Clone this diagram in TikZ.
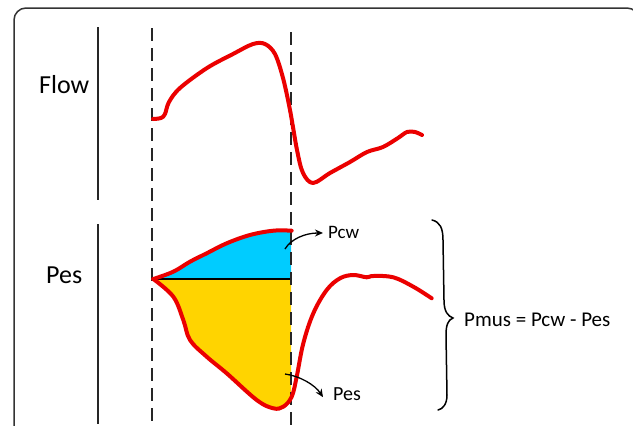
\documentclass[tikz,border=0pt]{standalone}
\usepackage{fontspec}
\setmainfont{Carlito}
\usetikzlibrary{arrows.meta}
\definecolor{tracered}{RGB}{235,0,0}
\definecolor{cwblue}{RGB}{0,204,255}
\definecolor{esyellow}{RGB}{255,212,0}
\begin{document}
\begin{tikzpicture}[x=1pt,y=-1pt,
  axisline/.style={line width=1.3pt, black!85},
  guide/.style={line width=1.3pt, black!85, dash pattern=on 13pt off 7pt},
  trace/.style={line width=4pt, tracered, line cap=round, line join=round},
  pointer/.style={line width=1.3pt, -{Stealth[length=8pt,width=7pt]}},
  lbl/.style={inner sep=0pt, anchor=base west}]
\useasboundingbox (0,0) rectangle (633,426);
\fill[white] (0,0) rectangle (633,426);
% frame
\draw[line width=1.5pt, black!80, rounded corners=12pt] (14,426) -- (14,8) -- (639,8) -- (639,426);
% coordinates
\coordinate (apex) at (153.3,279);
\coordinate (midR) at (291,279);
% fills
\begin{scope}
\clip (150,200) rectangle (291,420);
\fill[esyellow] plot[smooth, tension=0.6] coordinates {(153.3,279) (173.3,296.7) (183.3,320) (190,340) (206.7,356.7) (226.7,373.3) (256.7,400) (273.3,408.3) (283.3,406.7) (291.7,396.7) (296.7,376.7) (303.3,343.3)} -- (midR) -- cycle;
\fill[cwblue] plot[smooth, tension=0.6] coordinates {(153.3,279) (173.3,271.7) (190,261.7) (206.7,253.3) (226.7,243.3) (250,235) (273.3,230.7) (293,230.7)} -- (293,279) -- cycle;
\end{scope}
\draw[line width=1.2pt] (apex) -- (midR);
% axis lines
\draw[axisline] (98,27) -- (98,200);
\draw[axisline] (98,224) -- (98,424);
\draw[guide] (152,28) -- (152,426);
\draw[guide] (291,32) -- (291,426);
% flow trace
\draw[trace] plot[smooth, tension=0.55] coordinates {(153,119) (161,118) (165,114) (169,102) (180,88) (207,68) (233,54) (253,44) (265,44) (275,54) (283,78) (290,110) (297,150) (303,173) (313,183) (330,173) (350,162) (367,152) (383,147) (398,138) (407,132) (415,132) (422,135)};
% pes traces
\draw[trace] plot[smooth, tension=0.6] coordinates {(153.3,279) (173.3,271.7) (190,261.7) (206.7,253.3) (226.7,243.3) (250,235) (273.3,230.7) (291.7,230.7)};
\draw[trace] plot[smooth, tension=0.6] coordinates {(153.3,279) (173.3,296.7) (183.3,320) (190,340) (206.7,356.7) (226.7,373.3) (256.7,400) (273.3,408.3) (283.3,406.7) (291.7,396.7) (296.7,376.7) (303.3,343.3) (313.3,313.3) (326.7,290) (340,278.3) (353.3,275) (366.7,277.3) (373.3,276) (393.3,277.3) (413.3,286.7) (431.7,298.3)};
% brace
\draw[line width=1.5pt, line cap=round] (432,220) .. controls (440,222) and (443,228) .. (443,240) -- (444,300) .. controls (444,312) and (448,316) .. (453,318) .. controls (448,320) and (446,325) .. (446,335) -- (447,395) .. controls (447,404) and (443,409) .. (438,410);
% labels
\node[lbl, font=\fontsize{26}{30}\selectfont] (flow) at (39,93) {Flow};
\node[lbl, font=\fontsize{26}{30}\selectfont] (pesA) at (46,283) {Pes};
\node[lbl, font=\fontsize{19}{23}\selectfont] (pcw) at (328,238) {Pcw};
\node[lbl, font=\fontsize{20}{24}\selectfont] (pesB) at (333,400) {Pes};
\node[lbl, font=\fontsize{21}{25}\selectfont] (pmus) at (464,326) {Pmus = Pcw - Pes};
% pointers
\coordinate (pcwTail) at (285,249);
\coordinate (pesTail) at (285,374);
\draw[pointer] (pcwTail) .. controls (291,239) and (305,233) .. ([xshift=-5pt,yshift=-1pt]pcw.west);
\draw[pointer] (pesTail) .. controls (300,376) and (315,385) .. ([xshift=-10pt,yshift=-3.5pt]pesB.west);
\end{tikzpicture}
\end{document}
